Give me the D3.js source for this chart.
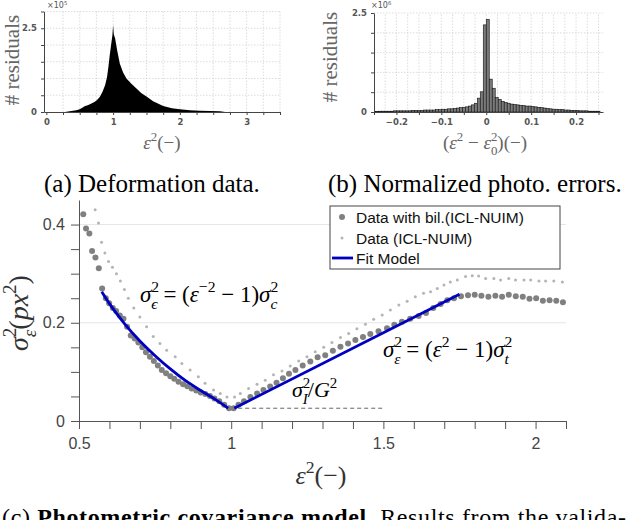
<!DOCTYPE html>
<html>
<head>
<meta charset="utf-8">
<script src="https://cdn.jsdelivr.net/npm/d3@7"></script>
<style>
body { margin: 0; background: #fff; }
</style>
</head>
<body>
<svg id="chart"></svg>
<script>
// (a) deformation histogram, counts in 1e5
const defX = [0.28,0.35,0.45,0.50,0.55,0.58,0.62,0.66,0.72,0.76,
  0.80,0.84,0.88,0.91,0.93,0.95,0.97,0.99,1.00,1.01,
  1.03,1.06,1.10,1.15,1.20,1.27,1.35,1.42,1.50,1.60,
  1.75,1.88,2.00,2.15,2.30,2.45,2.60,2.68];
const defCount = [0,0.02,0.05,0.08,0.14,0.18,0.20,0.24,0.30,0.36,
  0.45,0.60,0.80,1.05,1.35,1.70,2.00,2.30,2.60,2.32,
  2.20,1.85,1.45,1.18,1.00,0.85,0.70,0.57,0.46,0.32,
  0.18,0.11,0.08,0.05,0.04,0.03,0.02,0];
const defTicks = [0, 1, 2, 3];

// (b) normalized photometric errors, counts in 1e6, bins of 1/150 starting at bin -38
const photoFirstBin = -38;
const photoBinWidth = 1 / 150;
const photoCount = [
  0.01,0.01,0.02,0.02,0.02,0.02,0.02,0.03,0.03,
  0.03,0.03,0.03,0.03,0.04,0.04,0.04,0.04,0.05,0.05,
  0.05,0.05,0.06,0.06,0.07,0.07,0.08,0.08,0.09,0.10,
  0.11,0.12,0.13,0.15,0.18,0.22,0.35,0.51,2.20,
  2.34,0.83,0.60,0.37,0.32,0.27,0.24,0.22,0.20,0.19,0.18,
  0.17,0.16,0.15,0.15,0.14,
  0.13,0.12,0.11,0.10,0.09,
  0.08,0.07,0.07,0.06,0.06,
  0.05,0.05,0.04,0.04,0.04,
  0.03,0.03,0.03,0.02,0.02,0.02,0.02];
const photoTicks = [-0.2, -0.1, 0, 0.1, 0.2];

// (c) photometric covariance model
const bilX = [0.514,0.523,0.534,0.543,0.554,0.565,0.576,0.588,0.599,0.611,
  0.622,0.634,0.646,0.658,0.670,0.683,0.695,0.708,0.720,0.733,
  0.746,0.759,0.772,0.786,0.800,0.813,0.827,0.842,0.856,0.870,
  0.885,0.900,0.915,0.930,0.945,0.961,0.977,0.993,
  1.008,1.024,1.042,1.063,1.085,1.106,1.128,1.149,1.170,1.190,
  1.211,1.235,1.260,1.284,1.309,1.334,1.359,1.384,1.408,1.433,
  1.457,1.484,1.512,1.536,1.561,1.588,1.616,1.640,1.664,1.688,
  1.710,1.732,1.755,1.778,1.800,1.822,1.845,1.868,1.890,1.912,
  1.935,1.958,1.980,2.002,2.024,2.046,2.068,2.090];
const bilY = [0.421,0.392,0.382,0.346,0.333,0.311,0.270,0.250,0.240,0.230,
  0.224,0.215,0.208,0.192,0.174,0.168,0.160,0.150,0.140,0.131,
  0.122,0.113,0.104,0.097,0.091,0.086,0.080,0.075,0.071,0.066,
  0.062,0.058,0.055,0.051,0.046,0.040,0.033,0.026,
  0.026,0.033,0.040,0.049,0.056,0.063,0.070,0.078,0.087,0.096,
  0.104,0.113,0.121,0.130,0.134,0.143,0.151,0.158,0.165,0.171,
  0.177,0.183,0.189,0.196,0.202,0.208,0.214,0.220,0.230,0.238,
  0.246,0.250,0.254,0.256,0.257,0.255,0.253,0.255,0.253,0.257,
  0.254,0.253,0.249,0.250,0.245,0.246,0.245,0.242];

const rawX = [0.553,0.564,0.574,0.585,0.597,0.610,0.623,0.636,0.649,0.662,
  0.680,0.700,0.722,0.744,0.766,0.788,0.816,0.838,0.865,0.892,
  0.914,0.942,0.964,0.986,
  1.011,1.030,1.057,1.085,1.112,1.139,1.167,1.194,1.222,1.249,
  1.276,1.304,1.331,1.359,1.386,1.413,1.441,1.468,1.496,1.523,
  1.551,1.578,1.605,1.632,1.655,1.677,1.699,1.720,1.743,1.770,
  1.792,1.813,1.836,1.863,1.885,1.912,1.934,1.962,1.984,2.011,
  2.033,2.060,2.088];
const rawY = [0.430,0.403,0.364,0.342,0.325,0.313,0.300,0.285,0.268,0.250,
  0.230,0.212,0.192,0.172,0.158,0.144,0.131,0.117,0.104,0.090,
  0.077,0.063,0.056,0.049,
  0.049,0.056,0.066,0.075,0.083,0.094,0.102,0.112,0.122,0.131,
  0.141,0.150,0.160,0.170,0.178,0.188,0.197,0.207,0.216,0.226,
  0.236,0.244,0.253,0.260,0.263,0.270,0.277,0.283,0.287,0.294,
  0.296,0.295,0.290,0.290,0.287,0.290,0.287,0.287,0.287,0.285,
  0.285,0.285,0.283];

const fitLeftX = [0.575,0.60,0.65,0.70,0.75,0.80,0.85,0.90,0.95,0.99];
const fitLeftY = [0.263,0.239,0.198,0.163,0.133,0.106,0.082,0.062,0.043,0.026];
const fitRightX = [1.01, 1.75];
const fitRightY = [0.026, 0.258];
const noiseX = [1.0, 1.5];
const noiseY = 0.026;

const covXTicks = [0.5, 1, 1.5, 2];
const covYTicks = [0, 0.2, 0.4];
const legendNames = ['Data with bil.(ICL-NUIM)', 'Data (ICL-NUIM)', 'Fit Model'];

const width = 628;
const height = 520;
const SERIF = '"Liberation Serif", "Times New Roman", serif';

const svg = d3.select('#chart')
  .attr('width', width)
  .attr('height', height)
  .attr('font-family', '"Liberation Sans", Arial, sans-serif');

// small helper for latex-ish text made of tspans
function mathText(parent, x, y, size, parts) {
  const t = parent.append('text')
    .attr('x', x).attr('y', y)
    .attr('font-family', SERIF)
    .attr('font-size', size);
  let off = 0;
  parts.forEach(p => {
    const kind = p[1] || 'i';
    let target = 0, fs = size, dx = 0, style = 'italic';
    if (kind === 'r') style = 'normal';
    if (kind === 'sup') { target = -0.42 * size; fs = 0.68 * size; style = 'normal'; }
    if (kind === 'sub') { target = 0.3 * size; fs = 0.68 * size; }
    if (kind === 'stack') { target = 0.3 * size; fs = 0.68 * size; dx = -0.34 * size; }
    if (p[2]) style = p[2];
    t.append('tspan')
      .attr('dy', target - off)
      .attr('dx', dx)
      .attr('font-size', fs)
      .attr('font-style', style)
      .text(p[0]);
    off = target;
  });
  return t;
}

function styleSmallAxis(g) {
  g.select('.domain').attr('stroke', '#444');
  g.selectAll('.tick line').attr('stroke', '#444');
  g.selectAll('.tick text')
    .attr('font-size', 8.5)
    .attr('font-weight', 'bold')
    .attr('font-family', '"DejaVu Sans", sans-serif')
    .attr('fill', '#555');
}

// ---------- (a) ----------
const xA = d3.scaleLinear().domain([-0.035, 3.5]).range([44, 280]);
const yA = d3.scaleLinear().domain([0, 3]).range([112, 11.5]);

const gridA = svg.append('g')
  .attr('stroke', '#d4d4d4')
  .attr('stroke-dasharray', '1.5,1.5')
  .attr('stroke-width', 0.8);
gridA.selectAll('line.v')
  .data(d3.range(0.25, 3.51, 0.25))
  .enter().append('line')
  .attr('x1', d => xA(d)).attr('x2', d => xA(d))
  .attr('y1', yA(0)).attr('y2', yA(3));
gridA.selectAll('line.h')
  .data(d3.range(0.5, 3.01, 0.5))
  .enter().append('line')
  .attr('x1', xA.range()[0]).attr('x2', xA.range()[1])
  .attr('y1', d => yA(d)).attr('y2', d => yA(d));

const defPts = defX.map((x, i) => [x, defCount[i]]);
svg.append('path')
  .datum(defPts)
  .attr('fill', '#000')
  .attr('d', d3.area()
    .x(d => xA(d[0]))
    .y0(yA(0))
    .y1(d => yA(d[1])));

svg.append('g')
  .attr('transform', 'translate(0,' + yA(0) + ')')
  .call(d3.axisBottom(xA)
    .tickValues(d3.range(0, 3.51, 0.25))
    .tickFormat(d => defTicks.includes(d) ? d : '')
    .tickSize(3).tickSizeOuter(0).tickPadding(4))
  .call(styleSmallAxis);

svg.append('g')
  .attr('transform', 'translate(' + xA.range()[0] + ',0)')
  .call(d3.axisLeft(yA)
    .tickValues(d3.range(0, 3.01, 0.5))
    .tickFormat(d => (d === 0 || d === 2.5) ? d : '')
    .tickSize(3).tickSizeOuter(0).tickPadding(4))
  .call(styleSmallAxis);

mathText(svg, 47, 8, 8, [['×10', 'r'], ['5', 'sup']]).attr('fill', '#555')
  .attr('font-family', '"DejaVu Sans", sans-serif');

svg.append('text')
  .attr('transform', 'translate(19,60) rotate(-90)')
  .attr('text-anchor', 'middle')
  .attr('font-family', SERIF)
  .attr('font-size', 21)
  .attr('fill', '#666')
  .text('# residuals');

mathText(svg, 162, 149, 19, [['ε'], ['2', 'sup'], ['(−)', 'r']])
  .attr('text-anchor', 'middle').attr('fill', '#666');

// ---------- (b) ----------
const xB = d3.scaleLinear().domain([-0.25, 0.26]).range([374, 603]);
const yB = d3.scaleLinear().domain([0, 2.5]).range([112, 13]);

const gridB = svg.append('g')
  .attr('stroke', '#d4d4d4')
  .attr('stroke-dasharray', '1.5,1.5')
  .attr('stroke-width', 0.8);
gridB.selectAll('line.v')
  .data(d3.range(-0.225, 0.26, 0.025))
  .enter().append('line')
  .attr('x1', d => xB(d)).attr('x2', d => xB(d))
  .attr('y1', yB(0)).attr('y2', yB(2.5));
gridB.selectAll('line.h')
  .data(d3.range(0.5, 2.51, 0.5))
  .enter().append('line')
  .attr('x1', xB.range()[0]).attr('x2', xB.range()[1])
  .attr('y1', d => yB(d)).attr('y2', d => yB(d));

svg.append('clipPath').attr('id', 'clipB')
  .append('rect')
  .attr('x', xB.range()[0]).attr('y', 0)
  .attr('width', xB.range()[1] - xB.range()[0]).attr('height', 120);

svg.append('g')
  .attr('clip-path', 'url(#clipB)')
  .selectAll('rect.bar')
  .data(photoCount)
  .enter().append('rect')
  .attr('class', 'bar')
  .attr('x', (d, i) => xB((photoFirstBin + i) * photoBinWidth))
  .attr('width', (d, i) => xB((photoFirstBin + i + 1) * photoBinWidth) - xB((photoFirstBin + i) * photoBinWidth))
  .attr('y', d => yB(d))
  .attr('height', d => yB(0) - yB(d))
  .attr('fill', '#7a7a7a')
  .attr('stroke', '#111')
  .attr('stroke-width', 0.6);

svg.append('g')
  .attr('transform', 'translate(0,' + yB(0) + ')')
  .call(d3.axisBottom(xB)
    .tickValues(d3.range(-0.25, 0.26, 0.05))
    .tickFormat(d => {
      const m = photoTicks.find(t => Math.abs(t - d) < 1e-6);
      return m === undefined ? '' : d3.format('~g')(m);
    })
    .tickSize(3).tickSizeOuter(0).tickPadding(4))
  .call(styleSmallAxis);

svg.append('g')
  .attr('transform', 'translate(' + xB.range()[0] + ',0)')
  .call(d3.axisLeft(yB)
    .tickValues(d3.range(0, 2.51, 0.5))
    .tickFormat(d => (d === 0 || d === 2.5) ? d : '')
    .tickSize(3).tickSizeOuter(0).tickPadding(4))
  .call(styleSmallAxis);

mathText(svg, 371, 8, 8, [['×10', 'r'], ['6', 'sup']]).attr('fill', '#555')
  .attr('font-family', '"DejaVu Sans", sans-serif');

svg.append('text')
  .attr('transform', 'translate(337,57) rotate(-90)')
  .attr('text-anchor', 'middle')
  .attr('font-family', SERIF)
  .attr('font-size', 21)
  .attr('fill', '#666')
  .text('# residuals');

mathText(svg, 485, 149, 19, [['(', 'r'], ['ε'], ['2', 'sup'], [' − ', 'r'], ['ε'], ['2', 'sup'], ['0', 'stack', 'normal'], [')(−)', 'r']])
  .attr('text-anchor', 'middle').attr('fill', '#666');

// captions
svg.append('text')
  .attr('x', 44).attr('y', 192)
  .attr('font-family', SERIF)
  .attr('font-size', 25)
  .text('(a) Deformation data.');
svg.append('text')
  .attr('x', 328).attr('y', 192)
  .attr('font-family', SERIF)
  .attr('font-size', 25)
  .text('(b) Normalized photo. errors.');

// ---------- (c) ----------
const xC = d3.scaleLinear().domain([0.5, 2.1]).range([79, 566]);
const yC = d3.scaleLinear().domain([0, 0.45]).range([421, 200]);

svg.append('g')
  .selectAll('line')
  .data(covYTicks.filter(d => d > 0))
  .enter().append('line')
  .attr('x1', xC.range()[0]).attr('x2', xC.range()[1])
  .attr('y1', d => yC(d)).attr('y2', d => yC(d))
  .attr('stroke', '#e6e6e6')
  .attr('stroke-width', 1);

const isMajor = (list, d) => list.some(t => Math.abs(t - d) < 1e-6);

const axC = svg.append('g')
  .attr('transform', 'translate(0,' + yC(0) + ')')
  .call(d3.axisBottom(xC)
    .tickValues(d3.range(0.5, 2.1001, 0.1))
    .tickFormat(d => isMajor(covXTicks, d) ? d3.format('~g')(Math.round(d * 2) / 2) : '')
    .tickSize(8).tickSizeOuter(0).tickPadding(9));
const ayC = svg.append('g')
  .attr('transform', 'translate(' + xC.range()[0] + ',0)')
  .call(d3.axisLeft(yC)
    .tickValues(d3.range(0, 0.4001, 0.05))
    .tickFormat(d => isMajor(covYTicks, d) ? d3.format('~g')(Math.round(d * 10) / 10) : '')
    .tickSize(8).tickSizeOuter(0).tickPadding(6));
[axC, ayC].forEach(g => {
  g.attr('font-family', '"Liberation Sans", Arial, sans-serif');
  g.select('.domain').attr('stroke', '#555');
  g.selectAll('.tick line').attr('stroke', '#555');
  g.selectAll('.tick text').attr('font-size', 16).attr('fill', '#444');
});

// dashed noise floor
svg.append('line')
  .attr('x1', xC(noiseX[0])).attr('x2', xC(noiseX[1]))
  .attr('y1', yC(noiseY)).attr('y2', yC(noiseY))
  .attr('stroke', '#555')
  .attr('stroke-width', 0.9)
  .attr('stroke-dasharray', '4,3');

// data (ICL-NUIM), small light dots
svg.append('g')
  .selectAll('circle')
  .data(rawX.map((x, i) => [x, rawY[i]]))
  .enter().append('circle')
  .attr('cx', d => xC(d[0]))
  .attr('cy', d => yC(d[1]))
  .attr('r', 1.5)
  .attr('fill', '#b4b4b4');

// data with bilateral filter, big dots
svg.append('g')
  .selectAll('circle')
  .data(bilX.map((x, i) => [x, bilY[i]]))
  .enter().append('circle')
  .attr('cx', d => xC(d[0]))
  .attr('cy', d => yC(d[1]))
  .attr('r', 3)
  .attr('fill', '#808080');

// fit model
const fitLine = d3.line()
  .x(d => xC(d[0]))
  .y(d => yC(d[1]))
  .curve(d3.curveMonotoneX);
[[fitLeftX, fitLeftY], [fitRightX, fitRightY]].forEach(([xs, ys]) => {
  svg.append('path')
    .datum(xs.map((x, i) => [x, ys[i]]))
    .attr('fill', 'none')
    .attr('stroke', '#0000c0')
    .attr('stroke-width', 2.8)
    .attr('d', fitLine);
});

// axis labels
mathText(svg, 0, 0, 28, [['σ'], ['2', 'sup'], ['ε', 'stack'], ['(', 'r'], ['px'], ['2', 'sup'], [')', 'r']])
  .attr('transform', 'translate(28,313) rotate(-90)')
  .attr('text-anchor', 'middle')
  .attr('fill', '#333');

mathText(svg, 321, 484, 26, [['ε'], ['2', 'sup'], ['(−)', 'r']])
  .attr('text-anchor', 'middle').attr('fill', '#333');

// annotations
mathText(svg, 140, 302, 23, [['σ'], ['2', 'sup'], ['ϵ', 'stack'], [' = (', 'r'], ['ε'], ['−2', 'sup'], [' − 1)', 'r'], ['σ'], ['2', 'sup'], ['c', 'stack']]);
mathText(svg, 383, 357, 23, [['σ'], ['2', 'sup'], ['ε', 'stack'], [' = (', 'r'], ['ε'], ['2', 'sup'], [' − 1)', 'r'], ['σ'], ['2', 'sup'], ['t', 'stack']]);
mathText(svg, 292, 397, 22, [['σ'], ['2', 'sup'], ['I', 'stack'], ['/', 'r'], ['G'], ['2', 'sup']]);

// legend
const lg = svg.append('g').attr('transform', 'translate(330,206)');
lg.append('rect')
  .attr('width', 230).attr('height', 63)
  .attr('fill', '#fff')
  .attr('stroke', '#444')
  .attr('stroke-width', 1);
const rowY = [11, 32, 52];
lg.append('circle').attr('cx', 12).attr('cy', rowY[0]).attr('r', 3).attr('fill', '#808080');
lg.append('circle').attr('cx', 12).attr('cy', rowY[1]).attr('r', 1.5).attr('fill', '#b4b4b4');
lg.append('line').attr('x1', 2).attr('x2', 23).attr('y1', rowY[2]).attr('y2', rowY[2])
  .attr('stroke', '#0000c0').attr('stroke-width', 2.8);
lg.selectAll('text.leg')
  .data(legendNames)
  .enter().append('text')
  .attr('class', 'leg')
  .attr('x', 26)
  .attr('y', (d, i) => rowY[i] + 5.5)
  .attr('font-size', 15.5)
  .attr('fill', '#111')
  .text(d => d);

// caption (c), cut by the bottom edge
const cap = svg.append('text')
  .attr('x', 2).attr('y', 525)
  .attr('font-family', SERIF)
  .attr('font-size', 24)
  .attr('textLength', 624)
  .attr('lengthAdjust', 'spacing');
cap.append('tspan').text('(c) ');
cap.append('tspan').attr('font-weight', 'bold').text('Photometric covariance model.');
cap.append('tspan').text(' Results from the valida-');
</script>
</body>
</html>
